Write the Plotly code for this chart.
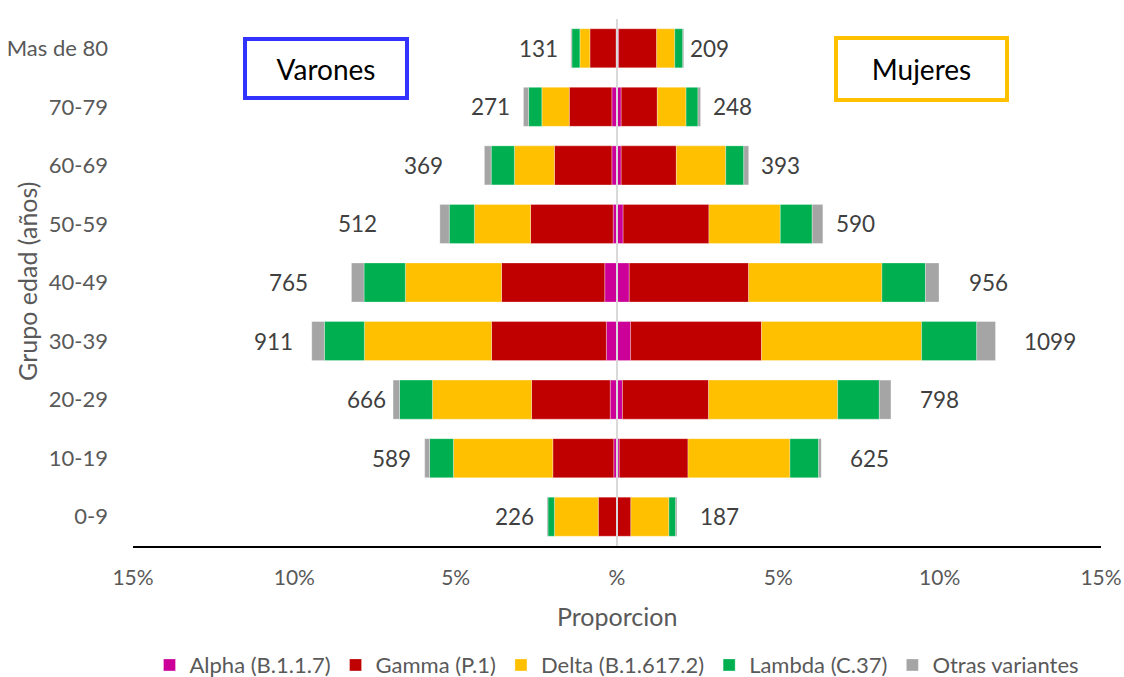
import plotly.graph_objects as go

# Age groups, bottom to top
grupos = ["0-9", "10-19", "20-29", "30-39", "40-49", "50-59", "60-69", "70-79", "Mas de 80"]

# Share of all sequenced cases (%) by variant — men
varones_alpha = [0.01, 0.10, 0.21, 0.33, 0.38, 0.12, 0.16, 0.16, 0.03]
varones_gamma = [0.57, 1.89, 2.44, 3.56, 3.20, 2.56, 1.78, 1.32, 0.81]
varones_delta = [1.36, 3.08, 3.07, 3.94, 2.98, 1.74, 1.24, 0.85, 0.31]
varones_lambda = [0.20, 0.74, 1.02, 1.24, 1.28, 0.78, 0.72, 0.41, 0.25]
varones_otras = [0.03, 0.15, 0.20, 0.39, 0.39, 0.29, 0.21, 0.16, 0.03]

# Share of all sequenced cases (%) by variant — women
mujeres_alpha = [0.01, 0.07, 0.17, 0.42, 0.38, 0.19, 0.13, 0.13, 0.05]
mujeres_gamma = [0.42, 2.13, 2.67, 4.06, 3.70, 2.66, 1.71, 1.12, 1.18]
mujeres_delta = [1.18, 3.16, 4.00, 4.96, 4.13, 2.21, 1.53, 0.89, 0.56]
mujeres_lambda = [0.21, 0.89, 1.29, 1.71, 1.35, 0.99, 0.56, 0.37, 0.25]
mujeres_otras = [0.04, 0.08, 0.36, 0.58, 0.42, 0.33, 0.15, 0.08, 0.03]

# Case counts per age group
n_varones = [226, 589, 666, 911, 765, 512, 369, 271, 131]
n_mujeres = [187, 625, 798, 1099, 956, 590, 393, 248, 209]

# Distance (in % units) between bar end and its count label
sep_varones = [1.02, 1.03, 0.83, 1.19, 1.96, 2.55, 1.90, 1.01, 1.00]
sep_mujeres = [1.31, 1.49, 1.51, 1.69, 1.53, 1.00, 1.00, 1.00, 0.79]

variantes = ["Alpha (B.1.1.7)", "Gamma (P.1)", "Delta (B.1.617.2)", "Lambda (C.37)", "Otras variantes"]
colores = ["#CC0099", "#C00000", "#FFC000", "#00B050", "#A5A5A5"]

tick_vals = [-15, -10, -5, 0, 5, 10, 15]
tick_text = ["15%", "10%", "5%", "%", "5%", "10%", "15%"]

series_v = [varones_alpha, varones_gamma, varones_delta, varones_lambda, varones_otras]
series_m = [mujeres_alpha, mujeres_gamma, mujeres_delta, mujeres_lambda, mujeres_otras]

FONT = "Lato"
GRIS = "#595959"

fig = go.Figure()
for nombre, color, sv, sm in zip(variantes, colores, series_v, series_m):
    fig.add_trace(go.Bar(
        y=grupos, x=[-v for v in sv], orientation="h", name=nombre,
        marker=dict(color=color, line=dict(color="rgba(255,255,255,0.6)", width=0.5)),
        legendgroup=nombre, showlegend=True,
    ))
    fig.add_trace(go.Bar(
        y=grupos, x=sm, orientation="h", name=nombre,
        marker=dict(color=color, line=dict(color="rgba(255,255,255,0.6)", width=0.5)),
        legendgroup=nombre, showlegend=False,
    ))

total_v = [sum(col) for col in zip(*series_v)]
total_m = [sum(col) for col in zip(*series_m)]

anns = []
for g, tv, tm, nv, nm, sv, sm in zip(grupos, total_v, total_m, n_varones, n_mujeres,
                                     sep_varones, sep_mujeres):
    anns.append(dict(x=-(tv + sv), y=g, xref="x", yref="y", text=str(nv), showarrow=False,
                     font=dict(family=FONT, size=22.5, color="#404040")))
    anns.append(dict(x=tm + sm, y=g, xref="x", yref="y", text=str(nm), showarrow=False,
                     font=dict(family=FONT, size=22.5, color="#404040")))

# Sex boxes
anns.append(dict(x=0.1994, y=0.907, xref="paper", yref="paper", text="Varones", showarrow=False,
                 xanchor="center", yanchor="middle",
                 font=dict(family=FONT, size=28, color="black"),
                 bordercolor="#3333FF", borderwidth=4, borderpad=0, width=158, height=55,
                 bgcolor="white"))
anns.append(dict(x=0.8146, y=0.905, xref="paper", yref="paper", text="Mujeres", showarrow=False,
                 xanchor="center", yanchor="middle",
                 font=dict(family=FONT, size=28, color="black"),
                 bordercolor="#FFC000", borderwidth=4, borderpad=0, width=167, height=58,
                 bgcolor="white"))

# Axis titles
anns.append(dict(x=0.5, y=-0.133, xref="paper", yref="paper", text="Proporcion", showarrow=False,
                 yanchor="middle", font=dict(family=FONT, size=25, color=GRIS)))
anns.append(dict(x=-0.109, y=0.502, xref="paper", yref="paper", text="Grupo edad (años)",
                 showarrow=False, textangle=-90, xanchor="center", yanchor="middle",
                 font=dict(family=FONT, size=25, color=GRIS)))

fig.update_layout(
    barmode="relative",
    bargap=1 / 3,
    width=1124, height=677,
    margin=dict(l=133, r=23, t=19, b=131, autoexpand=False),
    paper_bgcolor="white", plot_bgcolor="white",
    font=dict(family=FONT, color=GRIS),
    annotations=anns,
    shapes=[dict(type="line", xref="x", yref="paper", x0=0, x1=0, y0=0, y1=1,
                 line=dict(color="#D9D9D9", width=2), layer="above")],
    legend=dict(orientation="h", x=0.5, xanchor="center", y=-0.226, yanchor="middle",
                font=dict(family=FONT, size=22, color=GRIS), traceorder="normal",
                itemwidth=30),
    xaxis=dict(range=[-15, 15], tickvals=tick_vals, ticktext=tick_text, showgrid=False,
               zeroline=False, showline=True, linecolor="black", linewidth=2,
               ticks="", ticklabelstandoff=12, tickfont=dict(family=FONT, size=21, color=GRIS),
               fixedrange=True),
    yaxis=dict(categoryorder="array", categoryarray=grupos, showgrid=False, zeroline=False,
               showline=False, ticks="", ticklabelstandoff=24,
               tickfont=dict(family=FONT, size=22, color=GRIS), fixedrange=True),
)

fig.write_html("out.html")
